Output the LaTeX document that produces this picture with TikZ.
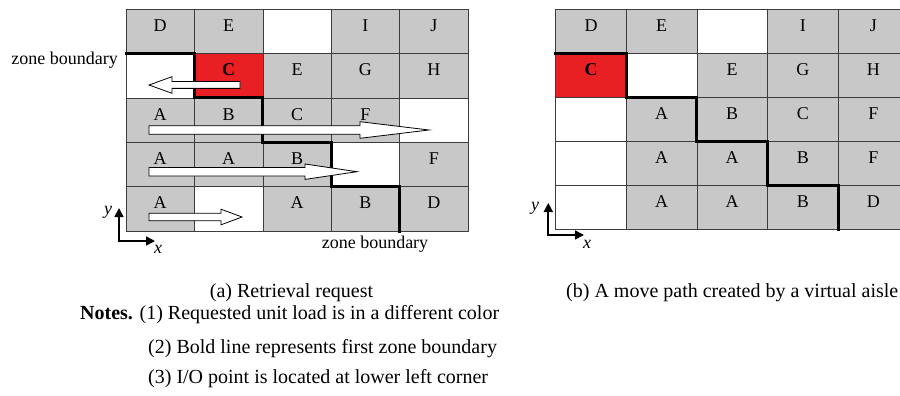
\documentclass[tikz,border=0pt]{standalone}
\usepackage{fontspec}
\setmainfont{Liberation Serif}
\usetikzlibrary{arrows.meta}
\definecolor{cellgray}{RGB}{200,200,200}
\definecolor{cellred}{RGB}{232,32,36}
\definecolor{gridline}{RGB}{60,60,60}
% start x, head base x, tip x, centre y, shaft half height, head half height
\newcommand{\blockarrow}[6]{%
  \draw[blockarr] (#1,{#4-#5}) -- (#2,{#4-#5}) -- (#2,{#4-#6}) -- (#3,#4)
    -- (#2,{#4+#6}) -- (#2,{#4+#5}) -- (#1,{#4+#5}) -- cycle;}
\begin{document}
\begin{tikzpicture}[x=1pt,y=-1pt,
  cellbase/.style={draw=gridline, line width=0.6pt, inner sep=0pt, outer sep=0pt,
    text height=12pt, text depth=12pt, font=\fontsize{18}{18}\selectfont},
  cellL/.style={cellbase, minimum width=68.4pt, minimum height=44.34pt},
  cellR/.style={cellbase, minimum width=70.6pt, minimum height=44pt},
  grayc/.style={fill=cellgray},
  whitec/.style={fill=white},
  redc/.style={fill=cellred},
  zoneline/.style={line width=3pt, line cap=rect, line join=miter},
  blockarr/.style={draw=black, fill=white, line width=0.8pt, line join=miter},
  axisline/.style={line width=1.7pt, {Triangle[length=9pt,width=9pt]}-{Triangle[length=9pt,width=9pt]}},
  axislabel/.style={font=\fontsize{18}{18}\selectfont\itshape, inner sep=0pt},
  smalltext/.style={font=\fontsize{18}{18}\selectfont, inner sep=0pt},
  captext/.style={font=\fontsize{20}{22}\selectfont, inner sep=0pt}]
\clip (0,0) rectangle (900,396);
\fill[white] (0,0) rectangle (900,396);

% ---------- left grid (a) ----------
\foreach \c/\r/\s/\t in {
  0/0/grayc/D, 1/0/grayc/E, 2/0/whitec/{}, 3/0/grayc/I, 4/0/grayc/J,
  0/1/whitec/{}, 1/1/redc/{\textbf{C}}, 2/1/grayc/E, 3/1/grayc/G, 4/1/grayc/H,
  0/2/grayc/A, 1/2/grayc/B, 2/2/grayc/C, 3/2/grayc/F, 4/2/whitec/{},
  0/3/grayc/A, 1/3/grayc/A, 2/3/grayc/B, 3/3/whitec/{}, 4/3/grayc/F,
  0/4/grayc/A, 1/4/whitec/{}, 2/4/grayc/A, 3/4/grayc/B, 4/4/grayc/D}
  \node[cellL, \s] (L\r\c) at ({126+68.4*(\c+0.5)}, {9.3+44.34*(\r+0.5)}) {\t};
\draw[gridline, line width=1pt] (L00.north west) rectangle (L44.south east);
\draw[zoneline] (L10.north west) -- (L10.north east) -- (L10.south east)
  -- (L11.south east) -- (L21.south east) -- (L22.south east)
  -- (L32.south east) -- (L33.south east) -- (L43.south east);

% move arrows
\blockarrow{240}{172}{149}{85}{3.4}{8.3}
\blockarrow{149}{360}{429}{130}{4.2}{8.3}
\blockarrow{149}{305}{357}{171.7}{4.3}{7.7}
\blockarrow{149}{221}{242}{217}{3.7}{7.8}

\node[smalltext, anchor=base east] (zbl) at (118,64.5) {zone boundary};
\node[smalltext, anchor=base] (zbb) at (375,248) {zone boundary};

\coordinate (LO) at (119,241);
\coordinate (LY) at (119,208);
\coordinate (LX) at (155,241);
\draw[axisline] (LY) -- (LO) -- (LX);
\node[axislabel] (ly) at (108,212) {y};
\node[axislabel] (lx) at (158,249) {x};

% ---------- right grid (b) ----------
\foreach \c/\r/\s/\t in {
  0/0/grayc/D, 1/0/grayc/E, 2/0/whitec/{}, 3/0/grayc/I, 4/0/grayc/J,
  0/1/redc/{\textbf{C}}, 1/1/whitec/{}, 2/1/grayc/E, 3/1/grayc/G, 4/1/grayc/H,
  0/2/whitec/{}, 1/2/grayc/A, 2/2/grayc/B, 3/2/grayc/C, 4/2/grayc/F,
  0/3/whitec/{}, 1/3/grayc/A, 2/3/grayc/A, 3/3/grayc/B, 4/3/grayc/F,
  0/4/whitec/{}, 1/4/grayc/A, 2/4/grayc/A, 3/4/grayc/B, 4/4/grayc/D}
  \node[cellR, \s] (R\r\c) at ({555.7+70.6*(\c+0.5)}, {9.3+44*(\r+0.5)}) {\t};
\draw[gridline, line width=1pt] (R00.north west) rectangle (R44.south east);
\draw[zoneline] (R10.north west) -- (R10.north east) -- (R10.south east)
  -- (R11.south east) -- (R21.south east) -- (R22.south east)
  -- (R32.south east) -- (R33.south east) -- (R43.south east);

\coordinate (RO) at (548.3,235);
\coordinate (RY) at (548.3,203);
\coordinate (RX) at (584,235);
\draw[axisline] (RY) -- (RO) -- (RX);
\node[axislabel] (ry) at (535,208) {y};
\node[axislabel] (rx) at (587,244) {x};

% ---------- captions ----------
\node[captext, anchor=base] (capa) at (291.5,297) {(a) Retrieval request};
\node[captext, anchor=base west] (note1) at (80,319) {\textbf{Notes.} (1) Requested unit load is in a different color};
\node[captext, anchor=base west] (note2) at (148,353) {(2) Bold line represents first zone boundary};
\node[captext, anchor=base west] (note3) at (148,383) {(3) I/O point is located at lower left corner};
\node[captext, anchor=base west] (capb) at (566,297) {(b) A move path created by a virtual aisle};
\end{tikzpicture}
\end{document}
